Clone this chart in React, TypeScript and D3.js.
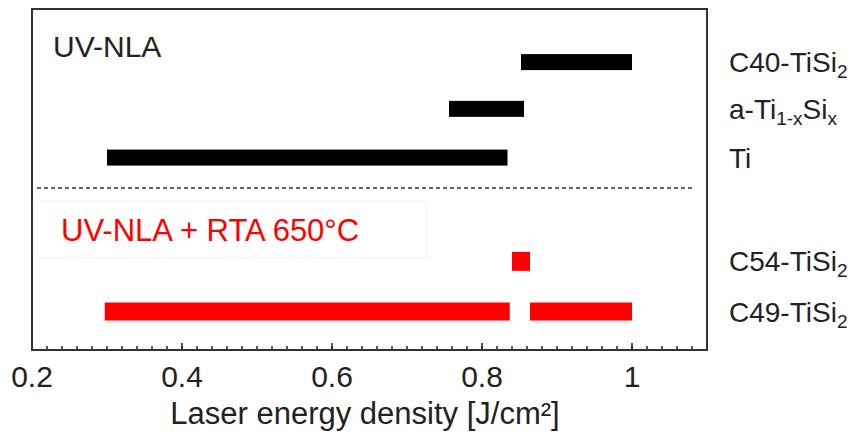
import React from "react";
import * as d3 from "d3";

// ---- data ----
const rowIds = ["C40", "aTi", "Ti", "C54", "C49"];
const rowLevels = [5.91, 4.95, 3.95, 1.82, 0.79];
const rowLabelMain = [["C40-TiSi", "2"], ["a-Ti", "1-x", "Si", "x"], ["Ti"], ["C54-TiSi", "2"], ["C49-TiSi", "2"]];

const barRows = ["C40", "aTi", "Ti", "C54", "C49", "C49"];
const barStarts = [0.852, 0.756, 0.300, 0.840, 0.297, 0.864];
const barEnds = [1.0, 0.856, 0.834, 0.864, 0.837, 1.0];
const barGroups = ["nla", "nla", "nla", "rta", "rta", "rta"];

const dividerLevel = 3.326;
const majorTicks = [0.2, 0.4, 0.6, 0.8, 1.0];
const majorTickLabels = ["0.2", "0.4", "0.6", "0.8", "1"];
const xDomain = [0.2, 1.1];
const yDomain = [0, 7];

const W = 867;
const H = 434;
const M = { left: 32, top: 9, right: 707, bottom: 350 };
const FONT = "'Liberation Sans', Arial, sans-serif";

export default function App() {
  const x = d3.scaleLinear().domain(xDomain).range([M.left, M.right]);
  const y = d3.scaleLinear().domain(yDomain).range([M.bottom, M.top]);
  const minorTicks = d3.range(0, 46).map((i) => 0.2 + i * 0.02).filter((v) => v <= 1.1);

  const colorOf = (g: string) => (g === "nla" ? "#000000" : "#ff0000");
  const heightOf = (g: string, i: number) => (g === "nla" ? 16 : i === 3 ? 19 : 18);

  return (
    <svg width={W} height={H} style={{ position: "absolute", left: 0, top: 0, background: "#fff" }}>
      <rect x={0} y={0} width={W} height={H} fill="#fff" />
      {/* faint text box */}
      <rect x={38} y={201} width={389} height={57} fill="none" stroke="#f3f3f3" strokeWidth={1} />
      {/* bars */}
      {barRows.map((r, i) => {
        const lvl = rowLevels[rowIds.indexOf(r)];
        const h = heightOf(barGroups[i], i);
        return (
          <rect
            key={i}
            x={x(barStarts[i])}
            y={y(lvl) - h / 2}
            width={x(barEnds[i]) - x(barStarts[i])}
            height={h}
            fill={colorOf(barGroups[i])}
          />
        );
      })}
      {/* divider */}
      <line x1={37} x2={692} y1={y(dividerLevel)} y2={y(dividerLevel)} stroke="#333" strokeWidth={1.5} strokeDasharray="4,3" />
      {/* ticks */}
      {minorTicks.map((t, i) => (
        <line key={"m" + i} x1={x(t)} x2={x(t)} y1={M.bottom} y2={M.bottom - 4} stroke="#222" strokeWidth={1.5} />
      ))}
      {majorTicks.map((t, i) => (
        <line key={"M" + i} x1={x(t)} x2={x(t)} y1={M.bottom} y2={M.bottom - 7} stroke="#222" strokeWidth={1.5} />
      ))}
      {/* frame */}
      <rect x={M.left} y={M.top} width={M.right - M.left} height={M.bottom - M.top} fill="none" stroke="#333" strokeWidth={2} />
      {/* tick labels */}
      {majorTicks.map((t, i) => (
        <text key={"l" + i} x={x(t)} y={387} textAnchor="middle" fontFamily={FONT} fontSize={30} fill="#222">
          {majorTickLabels[i]}
        </text>
      ))}
      <text x={365} y={424} textAnchor="middle" fontFamily={FONT} fontSize={31} fill="#222">
        Laser energy density [J/cm²]
      </text>
      {/* group labels */}
      <text x={53} y={57} fontFamily={FONT} fontSize={30} fill="#222">UV-NLA</text>
      <text x={61} y={241} fontFamily={FONT} fontSize={31} fill="#ff0000">UV-NLA + RTA 650°C</text>
      {/* row labels */}
      {rowIds.map((r, i) => {
        const parts = rowLabelMain[i];
        return (
          <text key={r} x={729} y={y(rowLevels[i]) + 10} fontFamily={FONT} fontSize={28} fill="#222">
            {parts.map((p, j) =>
              j % 2 === 1 ? (
                <tspan key={j} fontSize={19} dy={6}>{p}</tspan>
              ) : (
                <tspan key={j} dy={j === 0 ? 0 : -6}>{p}</tspan>
              )
            )}
          </text>
        );
      })}
    </svg>
  );
}
